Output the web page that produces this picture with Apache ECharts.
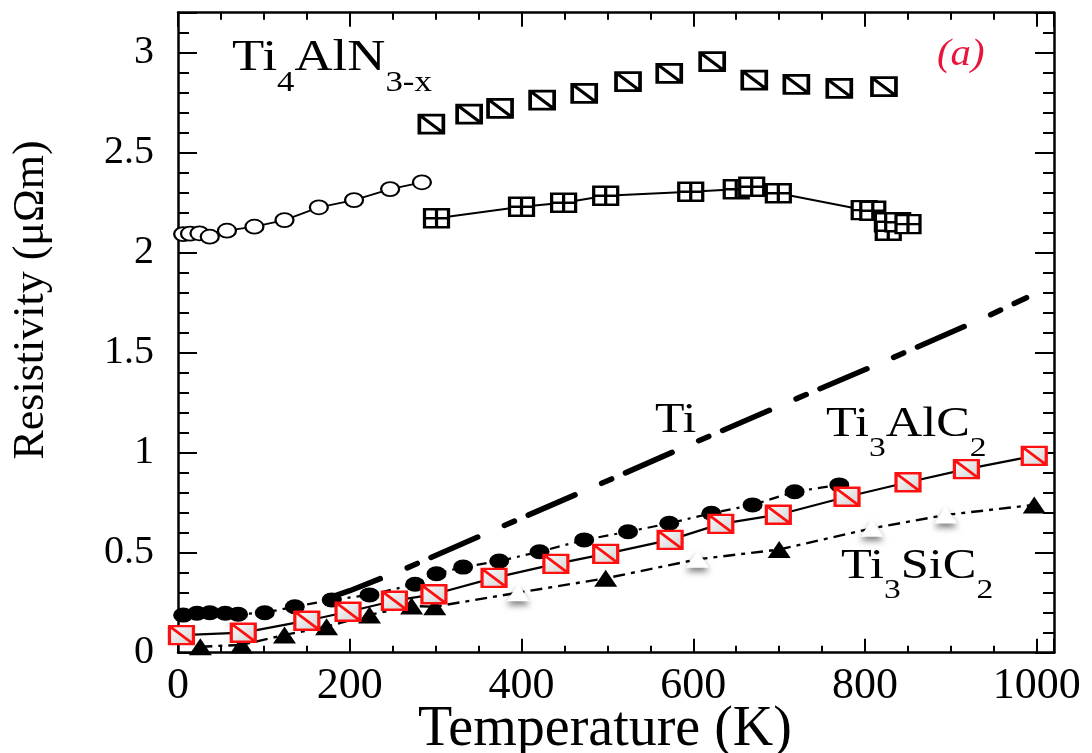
<!DOCTYPE html>
<html>
<head>
<meta charset="utf-8">
<script src="https://cdn.jsdelivr.net/npm/echarts@6/dist/echarts.min.js"></script>
<style>
html,body{margin:0;padding:0;background:#fff;}
#chart{width:1092px;height:753px;}
</style>
</head>
<body>
<div id="chart"></div>
<script>
// Temperature (K) / resistivity (µΩm) readings for each sample
const tempN3Low = [6, 14, 25, 37, 57, 89, 124, 164, 205, 247, 284];
const rhoN3Low  = [2.093, 2.095, 2.097, 2.08, 2.11, 2.13, 2.163, 2.227, 2.263, 2.318, 2.352];

const tempN3Mid = [301, 400, 449, 498, 597, 650, 668, 699, 799, 809, 826, 827, 838, 850];
const rhoN3Mid  = [2.172, 2.23, 2.25, 2.285, 2.305, 2.317, 2.33, 2.297, 2.213, 2.21, 2.152, 2.11, 2.152, 2.143];

const tempN3High = [295, 339, 375, 424, 473, 524, 572, 622, 671, 720, 770, 822];
const rhoN3High  = [2.643, 2.693, 2.722, 2.763, 2.797, 2.855, 2.897, 2.955, 2.863, 2.842, 2.822, 2.83];

const tempTi = [180, 200, 262, 374, 487, 601, 712, 827, 940, 988];
const rhoTi  = [0.28, 0.31, 0.415, 0.625, 0.835, 1.05, 1.255, 1.465, 1.677, 1.775];

const tempAlCDots = [6, 22, 37, 55, 70, 101, 136, 179, 223, 276, 301, 332, 374, 421, 473, 524, 572, 621, 669, 718, 770];
const rhoAlCDots  = [0.188, 0.197, 0.2, 0.197, 0.192, 0.2, 0.23, 0.264, 0.289, 0.342, 0.395, 0.428, 0.458, 0.505, 0.564, 0.605, 0.647, 0.697, 0.739, 0.805, 0.839];

const tempAlC = [4, 76, 150, 198, 252, 298, 368, 440, 498, 573, 632, 699, 779, 850, 918, 997];
const rhoAlC  = [0.088, 0.1, 0.16, 0.205, 0.26, 0.292, 0.374, 0.444, 0.494, 0.564, 0.644, 0.69, 0.78, 0.852, 0.918, 0.984];

const tempSiC = [26, 74, 124, 173, 223, 272, 299, 396, 498, 605, 700, 808, 894, 997];
const rhoSiC  = [0.03, 0.039, 0.089, 0.13, 0.189, 0.234, 0.23, 0.30, 0.372, 0.467, 0.516, 0.622, 0.689, 0.739];
// points of the Ti3SiC2 run that print as hollow triangles
const sicHollow = [false, false, false, false, false, false, false, true, false, true, false, true, true, false];

const xLabels = ['0', '200', '400', '600', '800', '1000'];
const yLabels = ['0', '0.5', '1', '1.5', '2', '2.5', '3'];

const FONT = 'Liberation Serif';
const pairs = (xs, ys) => xs.map((x, i) => [x, ys[i]]);

// marker outlines
const boxSlash = 'path://M0,0 L24,0 L24,18 L0,18 Z M0,0 L24,18';
const boxCross = 'path://M0,0 L24,0 L24,18 L0,18 Z M12,0 L12,18 M0,9 L24,9';

const chart = echarts.init(document.getElementById('chart'), null, {renderer: 'canvas'});

function xAxisDef(position, major) {
  return {
    type: 'value', position: position, min: 0, max: 1020,
    interval: major ? 200 : 50,
    axisLine: {show: major, onZero: false, lineStyle: {color: '#000', width: 2.5}},
    axisTick: {show: true, inside: true, length: major ? 14 : 7, lineStyle: {color: '#000', width: 2}},
    axisLabel: (major && position === 'bottom') ? {
      show: true, margin: 12, fontSize: 44, fontFamily: FONT, color: '#000',
      formatter: v => { const s = String(v); return xLabels.indexOf(s) >= 0 ? s : ''; }
    } : {show: false},
    splitLine: {show: false}
  };
}
function yAxisDef(position, major) {
  return {
    type: 'value', position: position, min: 0, max: 3.2,
    interval: major ? 0.5 : 0.1,
    axisLine: {show: major, onZero: false, lineStyle: {color: '#000', width: 2.5}},
    axisTick: {show: true, inside: true, length: major ? 19 : 11, lineStyle: {color: '#000', width: 2}},
    axisLabel: (major && position === 'left') ? {
      show: true, margin: 24, fontSize: 40, fontFamily: FONT, color: '#000',
      formatter: v => { const s = String(+v.toFixed(2)); return yLabels.indexOf(s) >= 0 ? s : ''; }
    } : {show: false},
    splitLine: {show: false}
  };
}

// compound formula with lowered subscripts, widened like the printed labels
const subText = (x, y, size, parts) => ({
  type: 'text', left: x, top: y, z: 100, scaleX: 1.2,
  style: {
    text: parts.map(p => '{' + p[0] + '|' + p[1] + '}').join(''),
    rich: {
      m: {fontSize: size, fontFamily: FONT, fill: '#000', lineHeight: size * 1.4, verticalAlign: 'top'},
      s: {fontSize: Math.round(size * 0.66), fontFamily: FONT, fill: '#000', verticalAlign: 'bottom'}
    }
  }
});

const option = {
  animation: false,
  backgroundColor: '#fff',
  grid: {left: 178, right: 38, top: 12.7, bottom: 100.3, containLabel: false},
  xAxis: [xAxisDef('bottom', true), xAxisDef('bottom', false), xAxisDef('top', true), xAxisDef('top', false)],
  yAxis: [yAxisDef('left', true), yAxisDef('left', false), yAxisDef('right', true), yAxisDef('right', false)],
  graphic: [
    subText(232, 36, 44, [['m', 'Ti'], ['s', '4'], ['m', 'AlN'], ['s', '3-x']]),
    subText(826, 404, 42, [['m', 'Ti'], ['s', '3'], ['m', 'AlC'], ['s', '2']]),
    subText(841, 546, 42, [['m', 'Ti'], ['s', '3'], ['m', 'SiC'], ['s', '2']]),
    {type: 'text', left: 655, top: 400, z: 100, scaleX: 1.15,
     style: {text: 'Ti', fontSize: 42, fontFamily: FONT, fill: '#000'}},
    {type: 'text', left: 937, top: 37, z: 100, scaleX: 1.1,
     style: {text: '(a)', fontSize: 37, fontFamily: FONT, fontStyle: 'italic', fill: '#e8163c'}},
    {type: 'text', x: 605, y: 730, z: 100,
     style: {text: 'Temperature (K)', fontSize: 56, fontFamily: FONT, fill: '#000', align: 'center', verticalAlign: 'middle'}},
    {type: 'text', x: 31, y: 300, rotation: Math.PI / 2, z: 100,
     style: {text: 'Resistivity (\u03bc\u03a9m)', fontSize: 44, fontFamily: FONT, fill: '#000', align: 'center', verticalAlign: 'middle'}}
  ],
  series: [
    {
      name: 'Ti', type: 'line', data: pairs(tempTi, rhoTi), showSymbol: false, symbol: 'none',
      lineStyle: {color: '#000', width: 5.5, type: [51, 29, 11, 15], cap: 'round'}, z: 2
    },
    {
      name: 'Ti4AlN3-x low', type: 'line', data: pairs(tempN3Low, rhoN3Low),
      symbol: 'circle', symbolSize: [18, 14],
      itemStyle: {color: '#fff', borderColor: '#000', borderWidth: 2, opacity: 1},
      lineStyle: {color: '#000', width: 1.8}, z: 3
    },
    {
      name: 'Ti4AlN3-x mid', type: 'line', data: pairs(tempN3Mid, rhoN3Mid),
      symbol: boxCross, symbolSize: [24, 18],
      itemStyle: {color: '#fff', borderColor: '#000', borderWidth: 2.8, opacity: 1},
      lineStyle: {color: '#000', width: 2}, z: 3
    },
    {
      name: 'Ti4AlN3-x high', type: 'scatter', data: pairs(tempN3High, rhoN3High),
      symbol: boxSlash, symbolSize: [24, 18],
      itemStyle: {color: '#fff', borderColor: '#000', borderWidth: 3.2, opacity: 1}, z: 3
    },
    {
      name: 'Ti3AlC2 dots', type: 'line', data: pairs(tempAlCDots, rhoAlCDots),
      symbol: 'circle', symbolSize: [20, 15],
      itemStyle: {color: '#000', opacity: 1},
      lineStyle: {color: '#000', width: 2.2, type: [10, 6, 3, 6]}, z: 4
    },
    {
      name: 'Ti3SiC2', type: 'line',
      data: tempSiC.map((t, i) => sicHollow[i]
        ? {value: [t, rhoSiC[i]], itemStyle: {color: '#fff', shadowColor: 'rgba(0,0,0,0.5)', shadowBlur: 6, shadowOffsetY: 4}}
        : [t, rhoSiC[i]]),
      symbol: 'triangle', symbolSize: [23, 17],
      itemStyle: {color: '#000', opacity: 1},
      lineStyle: {color: '#000', width: 2.4, type: [12, 6, 4, 6]}, z: 4
    },
    {
      name: 'Ti3AlC2', type: 'line', data: pairs(tempAlC, rhoAlC),
      symbol: boxSlash, symbolSize: [24, 18],
      itemStyle: {
        color: new echarts.graphic.LinearGradient(0, 0, 1, 1, [
          {offset: 0, color: '#ffffff'}, {offset: 1, color: '#d0d0d0'}
        ]),
        borderColor: '#ff1010', borderWidth: 2.8, opacity: 1
      },
      lineStyle: {color: '#000', width: 2.2}, z: 5
    }
  ]
};
chart.setOption(option);
</script>
</body>
</html>
